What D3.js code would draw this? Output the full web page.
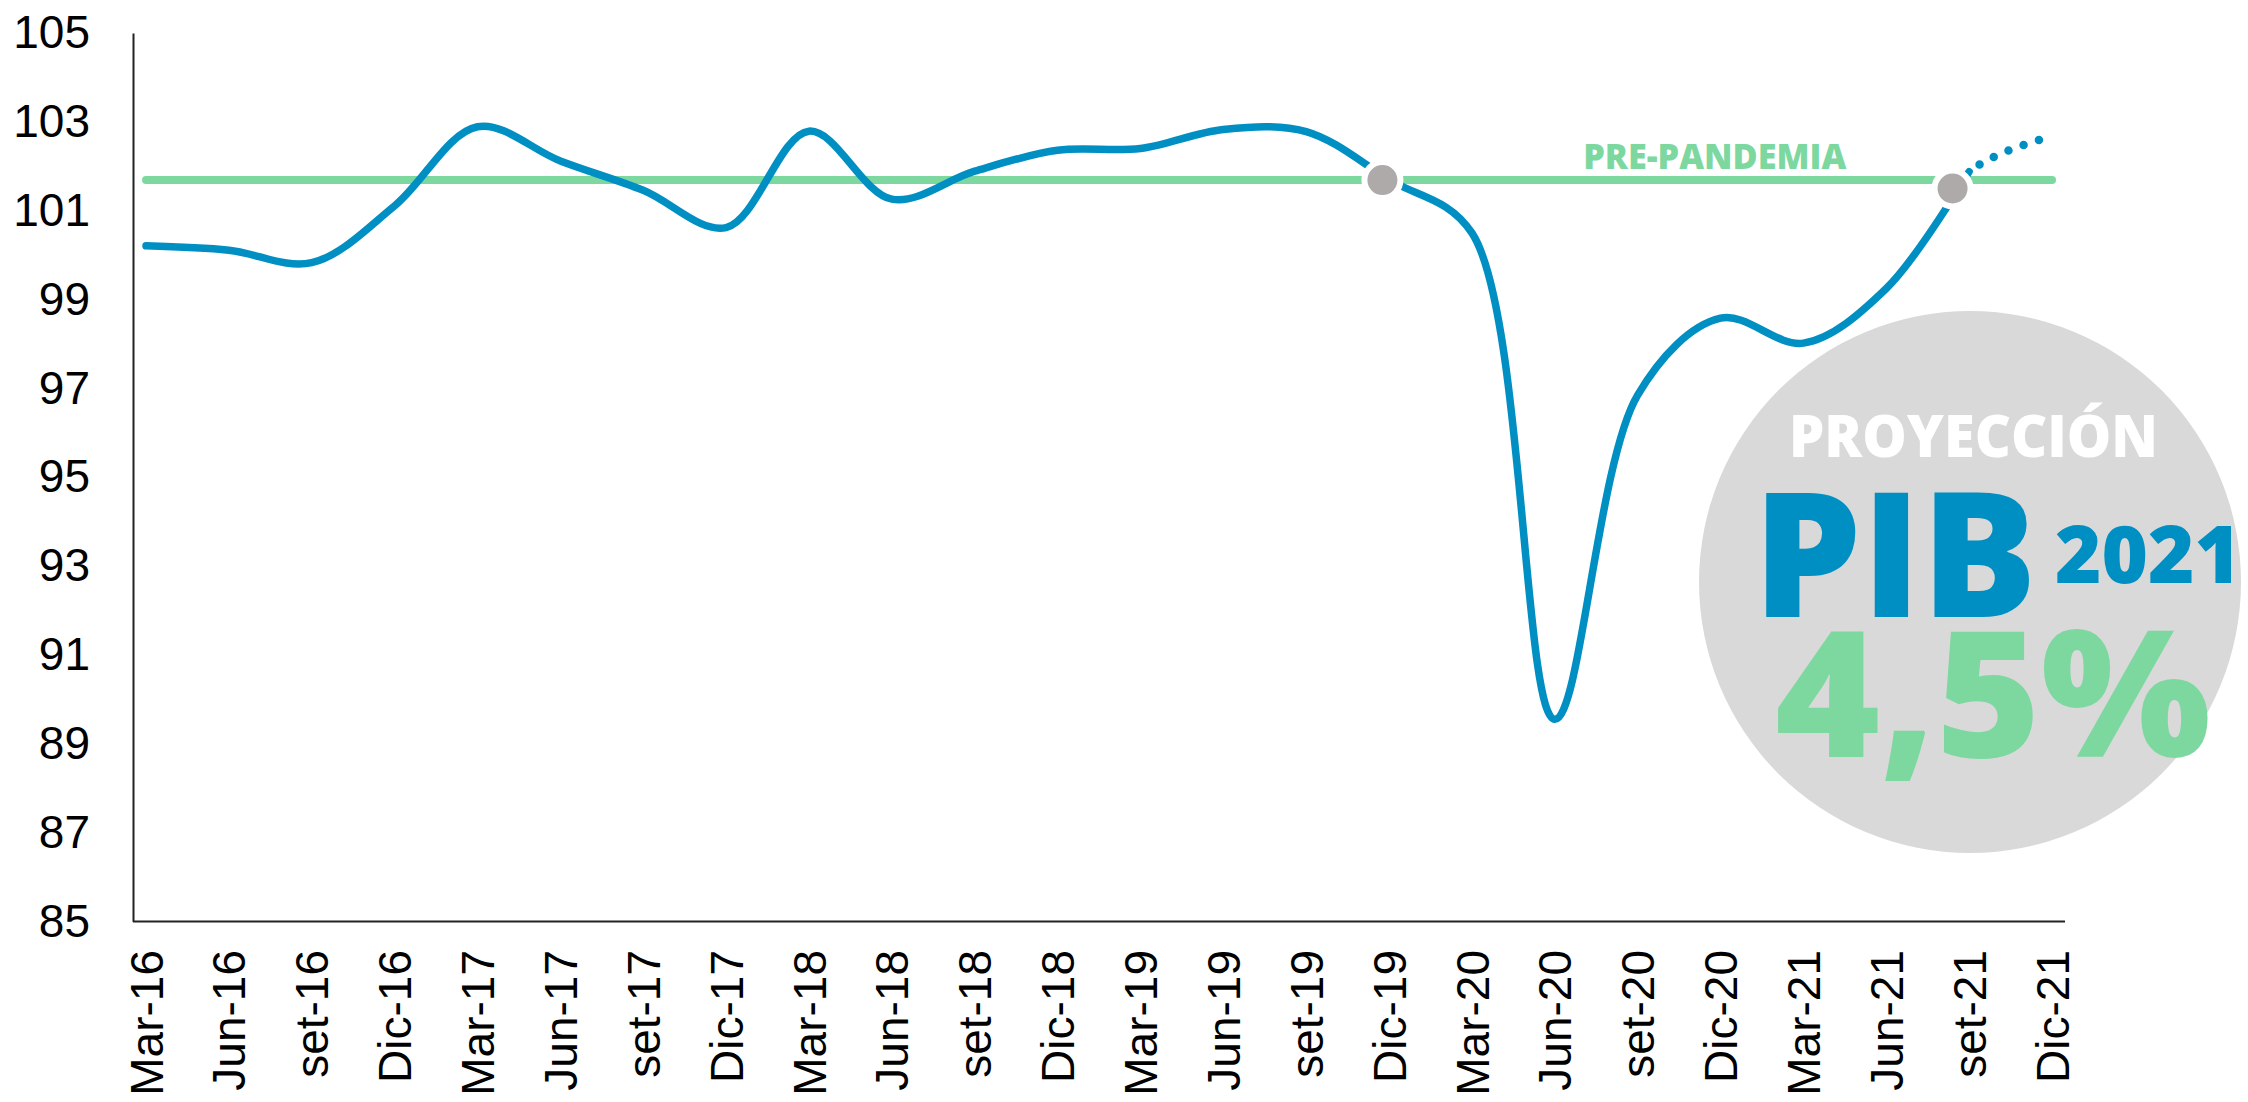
<!DOCTYPE html>
<html>
<head>
<meta charset="utf-8">
<script src="https://cdn.jsdelivr.net/npm/d3@7"></script>
<style>
  html, body { margin: 0; padding: 0; background: #fff; }
  svg { display: block; }
</style>
</head>
<body>
<div id="chart"></div>
<script>
/* ============================================================
   DATA
============================================================ */

const quarters = [
    "Mar-16", "Jun-16", "set-16", "Dic-16",
    "Mar-17", "Jun-17", "set-17", "Dic-17",
    "Mar-18", "Jun-18", "set-18", "Dic-18",
    "Mar-19", "Jun-19", "set-19", "Dic-19",
    "Mar-20", "Jun-20", "set-20", "Dic-20",
    "Mar-21", "Jun-21", "set-21", "Dic-21"
];

// índice PIB (último valor = proyección)
const pib = [
    100.21, 100.11, 99.83, 101.11,
    102.89, 102.12, 101.46, 100.62,
    102.79, 101.26, 101.89, 102.36,
    102.40, 102.83, 102.78, 101.70,
    100.50, 89.55, 96.85, 98.58,
    98.02, 99.25, 101.88, 102.68
];

const lastObserved = 22;          // set-21
const prePandemia = 101.69;
const yTicks = [85, 87, 89, 91, 93, 95, 97, 99, 101, 103, 105];

// gray markers (position in quarter index, value)
const markerPos = [14.92, 21.8];
const markerVal = [101.69, 101.5];

/* ============================================================
   SETUP
============================================================ */

const W = 2248, H = 1102;
const BLUE = "#008fc2";
const GREEN = "#7dd8a0";
const axisPad = 13;

const svg = d3.select("#chart")
    .append("svg")
    .attr("width", W)
    .attr("height", H);

const xScale = d3.scaleLinear()
    .domain([0, quarters.length - 1])
    .range([146, 2052]);

const yScale = d3.scaleLinear()
    .domain([85, 105])
    .range([921.5, 33]);

const x0 = xScale(0) - axisPad;
const x1 = xScale(quarters.length - 1) + axisPad;

/* ============================================================
   AXES
============================================================ */

const yAxis = svg.append("g")
    .attr("transform", `translate(${x0},0)`)
    .call(d3.axisLeft(yScale).tickValues(yTicks).tickSize(0).tickSizeOuter(0).tickPadding(43));

yAxis.select(".domain").attr("stroke", "#222").attr("stroke-width", 2);
yAxis.selectAll("text")
    .attr("font-family", "'Liberation Sans', Arial, sans-serif")
    .attr("font-size", 46)
    .attr("fill", "#000");

const xAxis = svg.append("g")
    .attr("transform", `translate(0,${yScale(85)})`)
    .call(d3.axisBottom(xScale)
        .tickValues(d3.range(quarters.length))
        .tickFormat(i => quarters[i])
        .tickSize(0));

xAxis.select(".domain").remove();
xAxis.append("line")
    .attr("x1", x0)
    .attr("x2", x1)
    .attr("stroke", "#222")
    .attr("stroke-width", 2);

xAxis.selectAll(".tick text")
    .attr("font-family", "'Liberation Sans', Arial, sans-serif")
    .attr("font-size", 46)
    .attr("fill", "#000")
    .attr("text-anchor", "end")
    .attr("transform", "rotate(-90)")
    .attr("x", -28.5)
    .attr("y", 0)
    .attr("dy", "0.35em");

/* ============================================================
   PROJECTION BUBBLE
============================================================ */

const bubble = svg.append("g");

bubble.append("circle")
    .attr("cx", 1970)
    .attr("cy", 582)
    .attr("r", 271)
    .attr("fill", "#d9d9d9");

const heavy = "'Open Sans', 'Noto Sans', sans-serif";

bubble.append("text")
    .attr("x", 1789).attr("y", 457)
    .attr("font-family", heavy).attr("font-weight", 800)
    .attr("font-size", 59)
    .attr("textLength", 369).attr("lengthAdjust", "spacingAndGlyphs")
    .attr("fill", "#fff")
    .text("PROYECCIÓN");

bubble.append("text")
    .attr("x", 1753).attr("y", 617)
    .attr("font-family", heavy).attr("font-weight", 800)
    .attr("font-size", 174)
    .attr("textLength", 284).attr("lengthAdjust", "spacingAndGlyphs")
    .attr("fill", BLUE)
    .text("PIB");

bubble.append("text")
    .attr("x", 2055).attr("y", 583)
    .attr("font-family", heavy).attr("font-weight", 800)
    .attr("font-size", 80)
    .attr("textLength", 186).attr("lengthAdjust", "spacingAndGlyphs")
    .attr("fill", BLUE)
    .text("2021");

bubble.append("text")
    .attr("x", 1775).attr("y", 757)
    .attr("font-family", heavy).attr("font-weight", 800)
    .attr("font-size", 176)
    .attr("textLength", 436).attr("lengthAdjust", "spacingAndGlyphs")
    .attr("fill", GREEN)
    .text("4,5%");

/* ============================================================
   LINES
============================================================ */

const series = pib.map((v, i) => ({ i, v }));

// pre-pandemic reference
svg.append("line")
    .attr("x1", xScale(0))
    .attr("x2", xScale(quarters.length - 1))
    .attr("y1", yScale(prePandemia))
    .attr("y2", yScale(prePandemia))
    .attr("stroke", GREEN)
    .attr("stroke-width", 8)
    .attr("stroke-linecap", "round");

svg.append("text")
    .attr("x", xScale(18.93))
    .attr("y", yScale(prePandemia) - 11)
    .attr("text-anchor", "middle")
    .attr("font-family", heavy).attr("font-weight", 800)
    .attr("font-size", 36)
    .attr("textLength", 263).attr("lengthAdjust", "spacingAndGlyphs")
    .attr("fill", GREEN)
    .text("PRE-PANDEMIA");

const line = d3.line()
    .x(d => xScale(d.i))
    .y(d => yScale(d.v))
    .curve(d3.curveCatmullRom.alpha(0.5));

svg.append("path")
    .datum(series.slice(0, lastObserved + 1))
    .attr("d", line)
    .attr("fill", "none")
    .attr("stroke", BLUE)
    .attr("stroke-width", 7.5)
    .attr("stroke-linecap", "round");

// projection: dotted, clipped to start at last observed quarter
svg.append("clipPath")
    .attr("id", "proj-clip")
    .append("rect")
    .attr("x", xScale(lastObserved))
    .attr("y", 0)
    .attr("width", W - xScale(lastObserved))
    .attr("height", H);

svg.append("path")
    .datum(series.slice(lastObserved - 2))
    .attr("clip-path", "url(#proj-clip)")
    .attr("d", line)
    .attr("fill", "none")
    .attr("stroke", BLUE)
    .attr("stroke-width", 8.5)
    .attr("stroke-linecap", "round")
    .attr("stroke-dasharray", "0 16");

/* ============================================================
   MARKERS
============================================================ */

svg.selectAll("circle.marker")
    .data(markerPos)
    .join("circle")
    .attr("class", "marker")
    .attr("cx", d => xScale(d))
    .attr("cy", (d, k) => yScale(markerVal[k]))
    .attr("r", 18)
    .attr("fill", "#aeaaaa")
    .attr("stroke", "#fff")
    .attr("stroke-width", 6);
</script>
</body>
</html>
